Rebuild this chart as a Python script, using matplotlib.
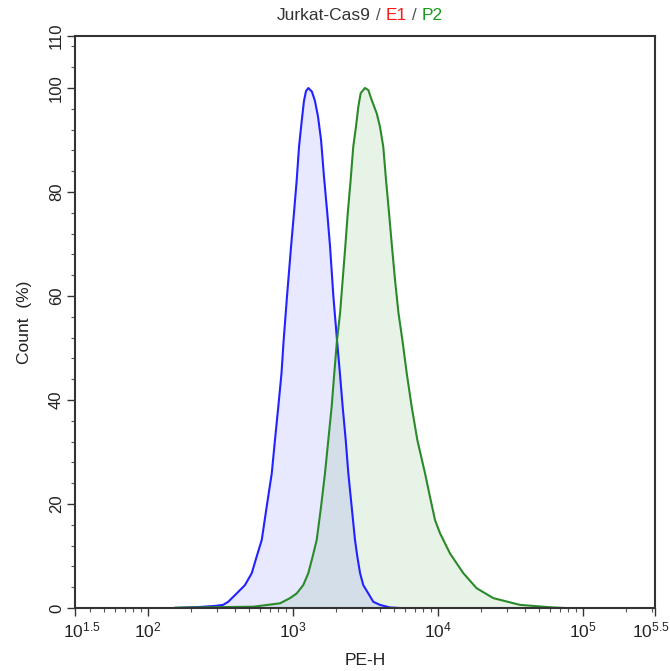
import matplotlib
matplotlib.use("Agg")
import matplotlib.pyplot as plt
import matplotlib.transforms as mtransforms
import numpy as np
from matplotlib.ticker import FixedLocator, NullFormatter

plt.rcParams['font.family'] = ['Liberation Sans', 'DejaVu Sans']
plt.rcParams['mathtext.fontset'] = 'custom'
plt.rcParams['mathtext.rm'] = 'Liberation Sans'
plt.rcParams['mathtext.it'] = 'Liberation Sans'

# log10(PE-H) and Count (%)
e1_log = [2.190, 2.362, 2.466, 2.521, 2.557, 2.615, 2.672, 2.719, 2.753, 2.788,
          2.822, 2.857, 2.879, 2.902, 2.924, 2.939, 2.962, 2.990, 3.010, 3.029,
          3.045, 3.063, 3.079, 3.093, 3.109, 3.134, 3.155, 3.176, 3.197, 3.217,
          3.240, 3.259, 3.282, 3.307, 3.327, 3.346, 3.367, 3.385, 3.408, 3.431,
          3.447, 3.466, 3.488, 3.523, 3.557, 3.603, 3.672, 3.741]
e1_count = [0.0, 0.2, 0.4, 0.6, 1.2, 2.8, 4.4, 6.7, 9.9, 13.1,
            19.5, 25.9, 32.3, 38.7, 45.1, 51.5, 59.9, 69.5, 75.9, 82.3,
            88.7, 93.5, 97.5, 99.4, 100.0, 99.3, 97.5, 94.5, 90.0, 83.0,
            75.9, 69.5, 59.9, 51.5, 45.1, 38.7, 32.3, 25.9, 19.5, 13.1,
            9.9, 6.7, 4.4, 2.8, 1.2, 0.6, 0.1, 0.0]

p2_log = [2.190, 2.730, 2.914, 2.983, 3.029, 3.074, 3.109, 3.139, 3.167, 3.197,
          3.224, 3.247, 3.270, 3.288, 3.307, 3.328, 3.346, 3.364, 3.381, 3.401,
          3.419, 3.438, 3.454, 3.470, 3.500, 3.523, 3.546, 3.581, 3.603, 3.626,
          3.645, 3.666, 3.686, 3.707, 3.731, 3.758, 3.788, 3.822, 3.861, 3.914,
          3.948, 3.983, 4.017, 4.086, 4.178, 4.270, 4.385, 4.569, 4.799, 4.879]
p2_count = [0.05, 0.25, 0.9, 1.9, 2.8, 4.4, 6.7, 9.9, 13.1, 19.5,
            25.9, 32.3, 38.7, 45.1, 51.5, 56.7, 63.1, 69.5, 75.9, 82.3,
            88.7, 92.6, 96.4, 99.0, 100.0, 99.6, 97.7, 95.1, 92.6, 88.7,
            82.3, 75.9, 69.5, 63.1, 56.7, 51.5, 45.1, 38.7, 32.3, 25.9,
            21.4, 16.9, 14.4, 10.5, 6.7, 3.8, 1.9, 0.6, 0.1, 0.0]

x_ticks = [1.5, 2, 3, 4, 5, 5.5]
x_labels = ['$10^{1.5}$', '$10^{2}$', '$10^{3}$', '$10^{4}$', '$10^{5}$', '$10^{5.5}$']
y_ticks = [0, 20, 40, 60, 80, 100, 110]

fig = plt.figure(figsize=(6.7, 6.71), dpi=100)
ax = fig.add_axes([75 / 670, 63 / 671, 580 / 670, 572 / 671])

e1_x = 10 ** np.array(e1_log)
p2_x = 10 ** np.array(p2_log)
ax.fill_between(e1_x, e1_count, color=(0, 0, 1, 0.09), lw=0)
ax.fill_between(p2_x, p2_count, color=(0, 0.5, 0, 0.09), lw=0)
ax.plot(e1_x, e1_count, color='#2222ff', lw=1.5, solid_joinstyle='round')
ax.plot(p2_x, p2_count, color='#2a8a2a', lw=1.5, solid_joinstyle='round')

ax.set_xscale('log')
ax.set_xlim(10 ** 1.5, 10 ** 5.5)
ax.set_ylim(0, 110)

ax.xaxis.set_major_locator(FixedLocator([10 ** v for v in x_ticks]))
ax.set_xticklabels(x_labels)
minors = [m * 10 ** d for d in range(1, 6) for m in range(2, 10)]
minors = [v for v in minors if 10 ** 1.5 < v < 10 ** 5.5]
ax.xaxis.set_minor_locator(FixedLocator(minors))
ax.xaxis.set_minor_formatter(NullFormatter())

ax.set_yticks(y_ticks)
ax.set_yticklabels([str(v) for v in y_ticks], rotation=90, va='center')
ax.yaxis.set_minor_locator(FixedLocator([v for v in range(0, 111, 4) if v % 20]))

ax.tick_params(which='major', length=6, width=1, color='#333333',
               labelcolor='#222222', direction='out')
ax.tick_params(which='minor', length=3, width=0.8, color='#555555', direction='out')
ax.tick_params(axis='x', labelsize=12.5, pad=3)
ax.tick_params(axis='y', labelsize=12, pad=2)
for s in ax.spines.values():
    s.set_linewidth(1.5)
    s.set_color('#333333')

# nudge the end labels inwards a little, like the reference
xl = ax.get_xticklabels()
xl[0].set_transform(xl[0].get_transform() + mtransforms.ScaledTranslation(7 / 100, 0, fig.dpi_scale_trans))
xl[-1].set_transform(xl[-1].get_transform() + mtransforms.ScaledTranslation(-4 / 100, 0, fig.dpi_scale_trans))

ax.set_xlabel('PE-H', fontsize=12.5, color='#222222', labelpad=9)
ax.set_ylabel('Count  (%)', fontsize=12.5, color='#222222', labelpad=12)

# multicoloured title
parts = [('Jurkat-Cas9', '#333333'), (' / ', '#555555'), ('E1', '#ff1a1a'),
         (' / ', '#555555'), ('P2', '#1a9a1a')]
fig.canvas.draw()
r = fig.canvas.get_renderer()
texts = [fig.text(0, 655 / 671, s, color=c, fontsize=12.5, va='center') for s, c in parts]
widths = [t.get_window_extent(r).width for t in texts]
x0 = 360 - sum(widths) / 2
for t, w in zip(texts, widths):
    t.set_x(x0 / 670)
    x0 += w

fig.savefig('out.png', dpi=100)
